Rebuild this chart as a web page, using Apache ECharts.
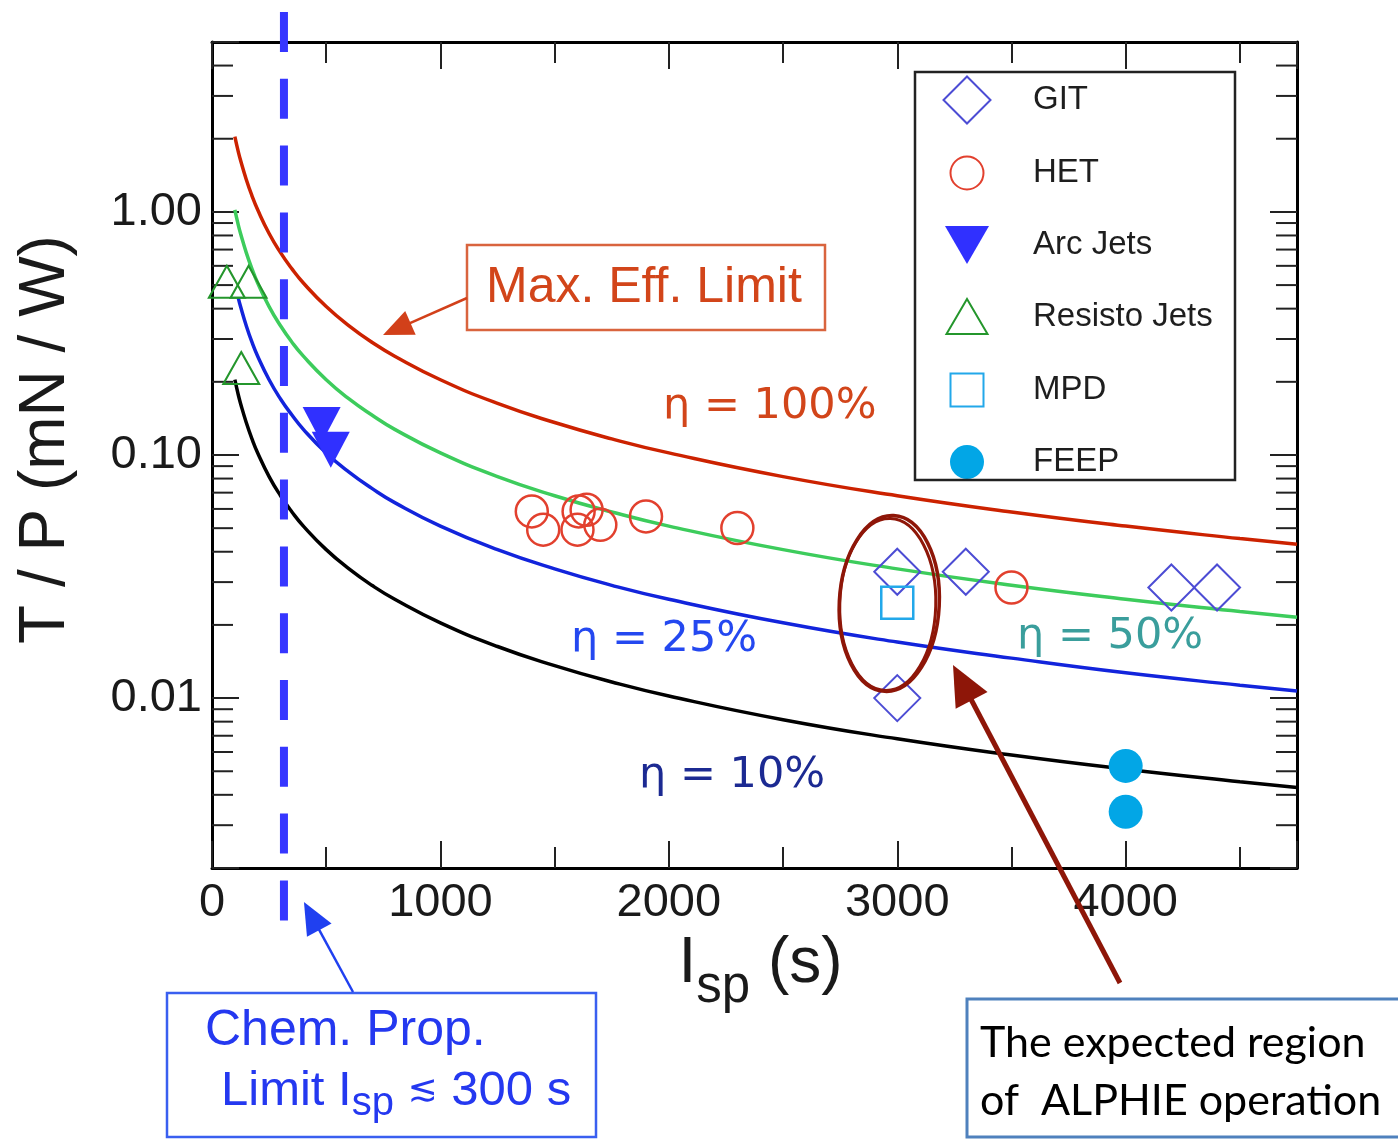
<!DOCTYPE html>
<html><head><meta charset="utf-8">
<script src="https://cdn.jsdelivr.net/npm/echarts@6/dist/echarts.min.js"></script>
<style>html,body{margin:0;padding:0;background:#fff;}#c{width:1398px;height:1139px;}</style>
</head><body><div id="c"></div>
<script>
// ---------- data ----------
const isp    = [100,115,125,150,175,200,250,300,350,400,500,600,700,800,1000,1250,1500,1750,2000,2500,3000,3500,4000,4500,4750];
const eta100 = [2.04,1.77,1.63,1.36,1.165,1.02,0.815,0.68,0.583,0.51,0.408,0.34,0.291,0.255,0.204,0.163,0.136,0.1165,0.102,0.0815,0.068,0.0583,0.051,0.0453,0.0429];
const eta50  = [1.02,0.885,0.815,0.68,0.583,0.51,0.408,0.34,0.291,0.255,0.204,0.17,0.146,0.1275,0.102,0.0815,0.068,0.0583,0.051,0.0408,0.034,0.0291,0.0255,0.0227,0.0215];
const eta25  = [null,0.443,0.408,0.34,0.291,0.255,0.204,0.17,0.146,0.1275,0.102,0.085,0.0729,0.0637,0.051,0.0408,0.034,0.0291,0.0255,0.0204,0.017,0.0146,0.0127,0.0113,0.0107];
const eta10  = [0.204,0.177,0.163,0.136,0.1165,0.102,0.0815,0.068,0.0583,0.051,0.0408,0.034,0.0291,0.0255,0.0204,0.0163,0.0136,0.01165,0.0102,0.00815,0.0068,0.00583,0.0051,0.00453,0.00429];

const gitIsp     = [3000, 3300, 4200, 4400, 3000];
const gitTP      = [0.0331, 0.0331, 0.0285, 0.0285, 0.0100];
const hetIsp     = [1400, 1450, 1600, 1605, 1640, 1700, 1900, 2300, 3500];
const hetTP      = [0.0586, 0.0493, 0.0493, 0.0586, 0.0595, 0.0516, 0.0559, 0.0501, 0.0285];
const arcIsp     = [480, 520];
const arcTP      = [0.133, 0.105];
const resistoIsp = [65, 160, 128];
const resistoTP  = [0.516, 0.516, 0.228];
const mpdIsp     = [3000];
const mpdTP      = [0.0247];
const feepIsp    = [4000, 4000];
const feepTP     = [0.00526, 0.00341];

const seriesNames = ['GIT', 'HET', 'Arc Jets', 'Resisto Jets', 'MPD', 'FEEP'];
const xTickValues = [0, 1000, 2000, 3000, 4000];
const yTickValues = [0.01, 0.1, 1];
const yTickLabels = ['0.01', '0.10', '1.00'];
const chemLimitIsp = 315;
const regionIsp = 2965, regionTP = 0.0245;

// ---------- chart ----------
const FONT = '"Liberation Sans", Arial, Helvetica, sans-serif';
const pairs = (xs, ys) => xs.map((x, i) => ys[i] == null ? null : [x, ys[i]]).filter(Boolean);
const near = (a, b) => Math.abs(Math.log10(a) - Math.log10(b)) < 1e-6;

const chart = echarts.init(document.getElementById('c'), null, {renderer: 'canvas'});

const tickStyle = {color: '#222', width: 2};
function xAx(pos, labels) {
  return {
    type: 'value', min: 0, max: 4750, interval: 1000, position: pos,
    axisLine: {show: true, onZero: false, lineStyle: {color: '#000', width: 3}},
    axisTick: {show: true, inside: true, length: 27, lineStyle: tickStyle},
    minorTick: {show: true, splitNumber: 2, length: 21, lineStyle: tickStyle},
    splitLine: {show: false}, minorSplitLine: {show: false},
    axisLabel: {show: labels, margin: 12, fontSize: 47, color: '#1a1a1a', fontFamily: FONT,
      formatter: v => xTickValues.indexOf(v) >= 0 ? String(v) : ''},
  };
}
function yAx(pos, labels) {
  return {
    type: 'log', logBase: 10, min: 0.002, max: 5, position: pos,
    axisLine: {show: true, onZero: false, lineStyle: {color: '#000', width: 3}},
    axisTick: {show: true, inside: true, length: 27, lineStyle: tickStyle},
    splitLine: {show: false},
    axisLabel: {show: labels, margin: 10, fontSize: 47, color: '#1a1a1a', fontFamily: FONT,
      formatter: v => { for (let i = 0; i < yTickValues.length; i++) if (near(v, yTickValues[i])) return yTickLabels[i]; return ''; }},
  };
}

const xMain = xAx('bottom', true);
xMain.name = '{a|I}{b|sp}{a| (s)}';
xMain.nameLocation = 'middle';
xMain.nameGap = 43;
xMain.nameTextStyle = {
  padding: [0, 0, 0, 12],
  rich: {
    a: {fontSize: 64, lineHeight: 99, fontFamily: FONT, color: '#1a1a1a', verticalAlign: 'middle'},
    b: {fontSize: 51, lineHeight: 50, fontFamily: FONT, color: '#1a1a1a', verticalAlign: 'bottom'}
  }
};
const yMain = yAx('left', true);
yMain.name = 'T / P (mN / W)';
yMain.nameLocation = 'middle';
yMain.nameRotate = 90;
yMain.nameGap = 134;
yMain.nameTextStyle = {fontSize: 64, fontFamily: FONT, color: '#1a1a1a', padding: [0, 0, 0, 31]};

const hollow = c => ({color: 'rgba(0,0,0,0)', borderColor: c, borderWidth: 2.5, opacity: 1});
const curve = (vals, color) => ({
  type: 'line', data: pairs(isp, vals), showSymbol: false, symbol: 'none', smooth: 0.5,
  lineStyle: {color: color, width: 3.5}, z: 2, silent: true, legendHoverLink: false
});

// legend icons, each drawn inside a 48x48 box (the two leading moves fix the box)
const BOX = 'path://M0,0M48,48';
const legendIcons = [
  BOX + 'M24,0.5L47.5,24L24,47.5L0.5,24Z',
  BOX + 'M7.5,24A16.5,16.5,0,1,1,40.5,24A16.5,16.5,0,1,1,7.5,24Z',
  BOX + 'M2,5L46,5L24,43Z',
  BOX + 'M3.5,41L44.5,41L24,6Z',
  BOX + 'M7.5,7.5L40.5,7.5L40.5,40.5L7.5,40.5Z',
  BOX + 'M7,24A17,17,0,1,1,41,24A17,17,0,1,1,7,24Z'
];

const option = {
  animation: false,
  backgroundColor: '#ffffff',
  textStyle: {fontFamily: FONT},
  grid: {left: 212, top: 42, width: 1085, height: 826, show: false},
  xAxis: [xMain, xAx('top', false)],
  yAxis: [yMain, yAx('right', false)],
  legend: {
    orient: 'vertical', left: 942, top: 75, itemWidth: 48, itemHeight: 48, itemGap: 23, padding: 0,
    selectedMode: false, symbolKeepAspect: true,
    textStyle: {fontSize: 33, color: '#1e1e1e', fontFamily: FONT, padding: [0, 0, 0, 37]},
    data: seriesNames.map((n, i) => ({name: n, icon: legendIcons[i]}))
  },
  series: [
    curve(eta100, '#cc2200'),
    curve(eta50, '#3dcc5c'),
    curve(eta25, '#1224dc'),
    curve(eta10, '#000000'),
    {name: 'GIT', type: 'scatter', data: pairs(gitIsp, gitTP), symbol: 'diamond', symbolSize: 46,
      itemStyle: {color: 'rgba(0,0,0,0)', borderColor: '#4c4cd4', borderWidth: 2, opacity: 1}, z: 5},
    {name: 'HET', type: 'scatter', data: pairs(hetIsp, hetTP), symbol: 'circle', symbolSize: 32,
      itemStyle: hollow('#e2402e'), z: 5},
    {name: 'Arc Jets', type: 'scatter', data: pairs(arcIsp, arcTP), symbol: 'triangle', symbolRotate: 180, symbolSize: [38, 36],
      itemStyle: {color: '#3030ff', opacity: 1}, z: 5},
    {name: 'Resisto Jets', type: 'scatter', data: pairs(resistoIsp, resistoTP), symbol: 'triangle', symbolSize: [36, 32],
      itemStyle: {color: 'rgba(0,0,0,0)', borderColor: '#24962c', borderWidth: 2, opacity: 1}, z: 5, clip: false},
    {name: 'MPD', type: 'scatter', data: pairs(mpdIsp, mpdTP), symbol: 'rect', symbolSize: 32,
      itemStyle: hollow('#22a8ea'), z: 5},
    {name: 'FEEP', type: 'scatter', data: pairs(feepIsp, feepTP), symbol: 'circle', symbolSize: 34,
      itemStyle: {color: '#02a6e6', opacity: 1}, z: 5}
  ]
};
chart.setOption(option);

// ---------- annotations positioned through the chart's own scales ----------
const px = (x, y) => chart.convertToPixel({gridIndex: 0}, [x, y]);
const gx0 = px(0, 1)[0], gx1 = px(4750, 1)[0];
const G = [];

// log minor ticks (2..9 per decade) on left and right frames
for (let e = -3; e <= 0; e++) {
  for (let k = 2; k <= 9; k++) {
    const v = k * Math.pow(10, e);
    if (v <= 0.002 * 1.0001 || v >= 5 * 0.9999) continue;
    const y = px(1000, v)[1];
    G.push({type: 'line', shape: {x1: gx0, y1: y, x2: gx0 + 21, y2: y}, style: {stroke: '#222', lineWidth: 2}, z: 3, silent: true});
    G.push({type: 'line', shape: {x1: gx1, y1: y, x2: gx1 - 21, y2: y}, style: {stroke: '#222', lineWidth: 2}, z: 3, silent: true});
  }
}

// chemical propulsion limit (dashed vertical line)
const cx = px(chemLimitIsp, 1)[0];
G.push({type: 'line', shape: {x1: cx, y1: 12, x2: cx, y2: 921},
  style: {stroke: '#3636ff', lineWidth: 8, lineDash: [40, 26.8]}, z: 10, silent: true});

function arrow(x1, y1, x2, y2, headLen, headW, color, lw) {
  const dx = x2 - x1, dy = y2 - y1, L = Math.hypot(dx, dy), ux = dx / L, uy = dy / L, nx = -uy, ny = ux;
  const bx = x2 - ux * headLen, by = y2 - uy * headLen;
  return [
    {type: 'line', shape: {x1: x1, y1: y1, x2: bx + ux * 3, y2: by + uy * 3}, style: {stroke: color, lineWidth: lw}, z: 20, silent: true},
    {type: 'polygon', shape: {points: [[x2, y2], [bx + nx * headW / 2, by + ny * headW / 2], [bx - nx * headW / 2, by - ny * headW / 2]]},
      style: {fill: color}, z: 20, silent: true}
  ];
}
const txt = (x, y, text, size, color, extra) => Object.assign({type: 'text', x: x, y: y, z: 20, silent: true,
  style: Object.assign({text: text, fontSize: size, fontFamily: FONT, fill: color, align: 'left', verticalAlign: 'middle'}, extra || {})});

// Max. Eff. Limit box + arrow
G.push({type: 'rect', shape: {x: 467, y: 245, width: 358, height: 85}, style: {fill: 'none', stroke: '#d9643e', lineWidth: 2.5}, z: 20, silent: true});
G.push(txt(486, 288, 'Max. Eff. Limit', 50, '#d2451a'));
G.push(...arrow(467, 298, 383, 335, 30, 26, '#d2401a', 2.5));

// efficiency labels
const ETA_FONT = '"DejaVu Sans", "Liberation Sans", sans-serif';
G.push(txt(663, 407, 'η = 100%', 43, '#d2451a', {fontFamily: ETA_FONT}));
G.push(txt(1017, 637, 'η = 50%', 43, '#3a9e9c', {fontFamily: ETA_FONT}));
G.push(txt(571, 640, 'η = 25%', 43, '#2448f0', {fontFamily: ETA_FONT}));
G.push(txt(639, 776, 'η = 10%', 43, '#1c2a92', {fontFamily: ETA_FONT}));

// legend frame
G.push({type: 'rect', shape: {x: 915, y: 72, width: 320, height: 408}, style: {fill: 'none', stroke: '#222', lineWidth: 2.5}, z: 20, silent: true});

// Chem. Prop. box + arrow
G.push({type: 'rect', shape: {x: 167, y: 993, width: 429, height: 144}, style: {fill: 'none', stroke: '#3a5ff0', lineWidth: 2.5}, z: 20, silent: true});
G.push(txt(205, 1031, 'Chem. Prop.', 50, '#2438f0'));
G.push(txt(221, 1091, '{a|Limit I}{b|sp}{a| }{c|≲}{a| 300 s}', 49, '#2438f0', {
  rich: {a: {fontSize: 49, lineHeight: 66, fontFamily: FONT, fill: '#2438f0', verticalAlign: 'middle'},
         b: {fontSize: 40, lineHeight: 40, fontFamily: FONT, fill: '#2438f0', verticalAlign: 'bottom'},
         c: {fontSize: 36, lineHeight: 36, fontFamily: ETA_FONT, fill: '#2438f0', verticalAlign: 'middle'}}}));
G.push(...arrow(353, 992, cx + 20, 902, 32, 28, '#2040f0', 2.5));

// expected ALPHIE region: ellipse + arrow + box
const ec = px(regionIsp, regionTP);
G.push({type: 'ellipse', x: ec[0], y: ec[1], rotation: -0.05, shape: {cx: 0, cy: 0, rx: 50, ry: 88},
  style: {fill: 'none', stroke: '#8e1608', lineWidth: 3.5}, z: 20, silent: true});
G.push({type: 'ellipse', x: ec[0] - 1.5, y: ec[1] + 1, rotation: -0.03, shape: {cx: 0, cy: 0, rx: 48, ry: 86},
  style: {fill: 'none', stroke: '#8e1608', lineWidth: 3}, z: 20, silent: true});
G.push(...arrow(1120, 983, 953, 665, 40, 36, '#8e1608', 5));
G.push({type: 'rect', shape: {x: 967, y: 999, width: 460, height: 138}, style: {fill: '#fff', stroke: '#4f81bd', lineWidth: 3}, z: 19, silent: true});
G.push(txt(980, 1043, 'The expected region', 43, '#000', {fontFamily: 'Lato, "Open Sans", sans-serif'}));
G.push(txt(980, 1101, 'of  ALPHIE operation', 43, '#000', {fontFamily: 'Lato, "Open Sans", sans-serif'}));

chart.setOption({graphic: {elements: G}});
</script>
</body></html>
